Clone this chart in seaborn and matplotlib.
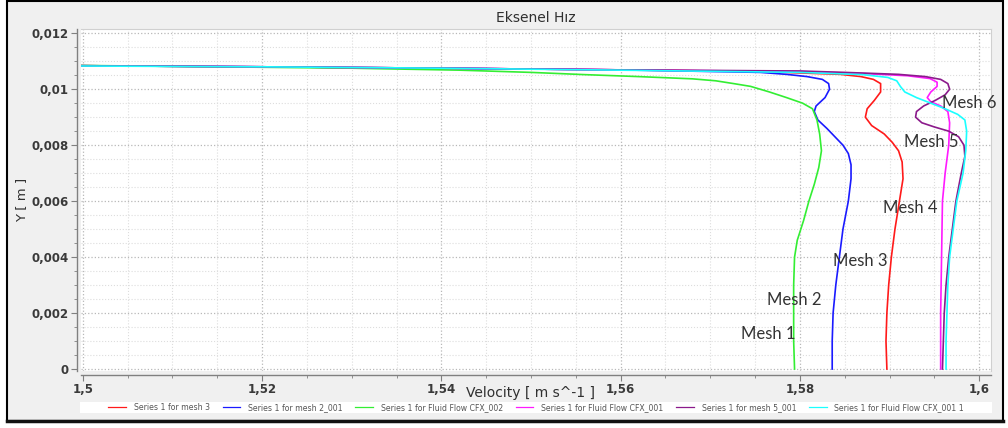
import numpy as np
import pandas as pd
import seaborn as sns
from matplotlib import pyplot as plt
from matplotlib.ticker import MultipleLocator, FuncFormatter
from matplotlib.patches import Rectangle

# veri: her seri icin yukseklik (m) ve hiz (m/s), alttan yukari
series_names = ['Series 1 for mesh 3', 'Series 1 for mesh 2_001',
                'Series 1 for Fluid Flow CFX_002', 'Series 1 for Fluid Flow CFX_001',
                'Series 1 for mesh 5_001', 'Series 1 for Fluid Flow CFX_001 1']
series_colors = ['#ff1a1a', '#1a1aff', '#33ee33', '#ff1aff', '#8b1a8b', '#1affff']

# ortak sol ust kisim (duvara yakin)
top_y = [0.01069, 0.01075, 0.0108, 0.01084]
top_v = [1.56, 1.54, 1.52, 1.499]

red_y = [0.0, 0.001, 0.002, 0.003, 0.004, 0.005, 0.006, 0.0068, 0.0074, 0.0078, 0.0081,
         0.0084, 0.0087, 0.0090, 0.0093, 0.0096, 0.0099, 0.0102, 0.01035, 0.01045, 0.01053,
         0.01058, 0.01063] + top_y
red_v = [1.5897, 1.5896, 1.5897, 1.5899, 1.5902, 1.5906, 1.5911, 1.5915, 1.5914, 1.5910, 1.5903,
         1.5894, 1.5880, 1.5873, 1.5875, 1.5883, 1.5890, 1.5890, 1.5882, 1.5868, 1.5845,
         1.5800, 1.5756] + top_v

blue_y = [0.0, 0.001, 0.002, 0.003, 0.004, 0.005, 0.006, 0.0068, 0.0073, 0.0077, 0.0080,
          0.0083, 0.0086, 0.0089, 0.0092, 0.0094, 0.0097, 0.0100, 0.0102, 0.01035, 0.01045,
          0.01053, 0.0106] + top_y
blue_v = [1.5836, 1.5836, 1.5837, 1.5840, 1.5844, 1.5848, 1.5854, 1.5857, 1.5857, 1.5854, 1.5848,
          1.5839, 1.5830, 1.5820, 1.5816, 1.5818, 1.5828, 1.5833, 1.5832, 1.5825, 1.5808,
          1.5785, 1.5756] + top_v

green_y = [0.0, 0.001, 0.002, 0.003, 0.004, 0.0046, 0.0053, 0.006, 0.0066, 0.0072, 0.0078,
           0.0084, 0.0089, 0.0093, 0.0095, 0.0097, 0.0099, 0.0101, 0.0102, 0.0103, 0.01037,
           0.01045, 0.01052, 0.0106, 0.01068, 0.01075, 0.0108, 0.01085]
green_v = [1.5794, 1.5793, 1.5793, 1.5793, 1.5794, 1.5797, 1.5804, 1.5810, 1.5816, 1.5821, 1.5824,
           1.5822, 1.5819, 1.5814, 1.5803, 1.5785, 1.5766, 1.5745, 1.5726, 1.5706, 1.5680,
           1.5620, 1.5560, 1.5500, 1.5420, 1.5300, 1.5150, 1.499]

magenta_y = [0.0, 0.002, 0.004, 0.006, 0.007, 0.008, 0.0088, 0.0092, 0.0094, 0.00955, 0.0097,
             0.0099, 0.0101, 0.01025, 0.01038, 0.01048, 0.01056, 0.01063] + top_y
magenta_v = [1.5957, 1.5957, 1.5958, 1.5959, 1.5962, 1.5966, 1.5967, 1.5965, 1.5957, 1.5946, 1.5942,
             1.5946, 1.5953, 1.5953, 1.5945, 1.5920, 1.5870, 1.5800] + top_v

purple_y = [0.0, 0.001, 0.002, 0.003, 0.004, 0.005, 0.006, 0.007, 0.0076, 0.0080, 0.0083,
            0.0085, 0.00865, 0.0088, 0.0090, 0.0092, 0.0094, 0.0096, 0.0098, 0.0100, 0.0102,
            0.01035, 0.01045, 0.01053, 0.0106, 0.01065] + top_y
purple_v = [1.5959, 1.5960, 1.5961, 1.5963, 1.5966, 1.5970, 1.5974, 1.5980, 1.5984, 1.5983, 1.5977,
            1.5966, 1.5950, 1.5936, 1.5929, 1.5930, 1.5938, 1.5951, 1.5962, 1.5967, 1.5965,
            1.5957, 1.5940, 1.5910, 1.5850, 1.5800] + top_v

cyan_y = [0.0, 0.001, 0.002, 0.003, 0.004, 0.005, 0.006, 0.007, 0.0078, 0.0085, 0.0089,
          0.0091, 0.0093, 0.0095, 0.0097, 0.0099, 0.0101, 0.0103, 0.01042, 0.01052, 0.0106,
          0.01068, 0.01075, 0.0108, 0.01083]
cyan_v = [1.5963, 1.5963, 1.5964, 1.5965, 1.5967, 1.5971, 1.5975, 1.5982, 1.5985, 1.5986, 1.5984,
          1.5976, 1.5962, 1.5946, 1.5930, 1.5917, 1.5912, 1.5908, 1.5898, 1.5870, 1.5800,
          1.56, 1.54, 1.52, 1.499]

all_v = [red_v, blue_v, green_v, magenta_v, purple_v, cyan_v]
all_y = [red_y, blue_y, green_y, magenta_y, purple_y, cyan_y]

mesh_labels = ['Mesh 1', 'Mesh 2', 'Mesh 3', 'Mesh 4', 'Mesh 5', 'Mesh 6']
mesh_x = [1.5765, 1.5794, 1.5867, 1.5923, 1.5946, 1.5989]
mesh_y = [0.00126, 0.00246, 0.00387, 0.00575, 0.00812, 0.00949]

frames = []
for name, v, y in zip(series_names, all_v, all_y):
    frames.append(pd.DataFrame({'v': v, 'y': y, 'seri': name}))
df = pd.concat(frames, ignore_index=True)

fig = plt.figure(figsize=(10.08, 4.28), dpi=100, facecolor='white')
# dis cerceve
fig.patches.append(Rectangle((0.0069, 0.0164), 0.988, 0.981, transform=fig.transFigure,
                             facecolor='#f0f0f0', edgecolor='black', lw=1.5, zorder=-10))
fig.add_artist(plt.Line2D([0.0069, 0.9949], [0.0164, 0.0164], transform=fig.transFigure,
                          color='#111111', lw=2.5))
# lejant arka plani
fig.patches.append(Rectangle((0.0794, 0.035), 0.905, 0.026, transform=fig.transFigure,
                             facecolor='white', edgecolor='none', zorder=-5))

ax = fig.add_axes([0.0804, 0.1332, 0.9026, 0.7990])
ax.set_facecolor('white')

for name, col in zip(series_names, series_colors):
    sns.lineplot(data=df[df['seri'] == name], x='v', y='y', color=col, sort=False,
                 estimator=None, linewidth=1.2, ax=ax, label=name)

ax.set_xlim(1.4998, 1.6013)
ax.set_ylim(-0.00007, 0.01215)

ax.xaxis.set_major_locator(MultipleLocator(0.02))
ax.xaxis.set_minor_locator(MultipleLocator(0.005))
ax.yaxis.set_major_locator(MultipleLocator(0.002))
ax.yaxis.set_minor_locator(MultipleLocator(0.0005))
virgul = FuncFormatter(lambda val, pos: ('%g' % round(val, 6)).replace('.', ','))
ax.xaxis.set_major_formatter(virgul)
ax.yaxis.set_major_formatter(virgul)

ax.grid(which='major', color='#b8b8b8', linestyle=':', linewidth=0.9)
ax.grid(which='minor', color='#dddddd', linestyle=':', linewidth=0.8)
ax.set_axisbelow(True)

for s in ['top', 'right']:
    ax.spines[s].set_color('#d0d0d0')
    ax.spines[s].set_linewidth(0.8)
for s in ['left', 'bottom']:
    ax.spines[s].set_color('#808080')
    ax.spines[s].set_linewidth(1.0)
    ax.spines[s].set_position(('outward', 3))

ax.tick_params(which='major', length=4, color='#808080', labelsize=8.5, labelcolor='#3a3a3a', pad=2)
ax.tick_params(which='minor', length=2.5, color='#808080')
for lab in ax.get_xticklabels() + ax.get_yticklabels():
    lab.set_fontweight('bold')

ax.set_title('Eksenel Hız', fontsize=10, color='#303030', pad=5)
ax.set_xlabel('Velocity [ m s^-1 ]', fontsize=10, color='#303030')
ax.set_ylabel('Y [ m ]', fontsize=9.5, color='#303030')
ax.xaxis.set_label_coords(0.4945, -0.044)
ax.yaxis.set_label_coords(-0.058, 0.5)

for t, x, y in zip(mesh_labels, mesh_x, mesh_y):
    ax.text(x, y, t, fontsize=12, family=['Lato', 'DejaVu Sans'], color='#333333',
            ha='center', va='center', clip_on=False)

handles, labels = ax.get_legend_handles_labels()
ax.legend_.remove()
leg = fig.legend(handles, labels, loc='center', bbox_to_anchor=(0.532, 0.0474), ncol=6,
                 fontsize=5.6, frameon=False, borderpad=0.3, columnspacing=1.6,
                 handlelength=2.3, handletextpad=1.0)
for txt in leg.get_texts():
    txt.set_color('#555555')
for h in leg.legend_handles:
    h.set_linewidth(0.9)

fig.savefig('out.png', dpi=100, facecolor=fig.get_facecolor())
